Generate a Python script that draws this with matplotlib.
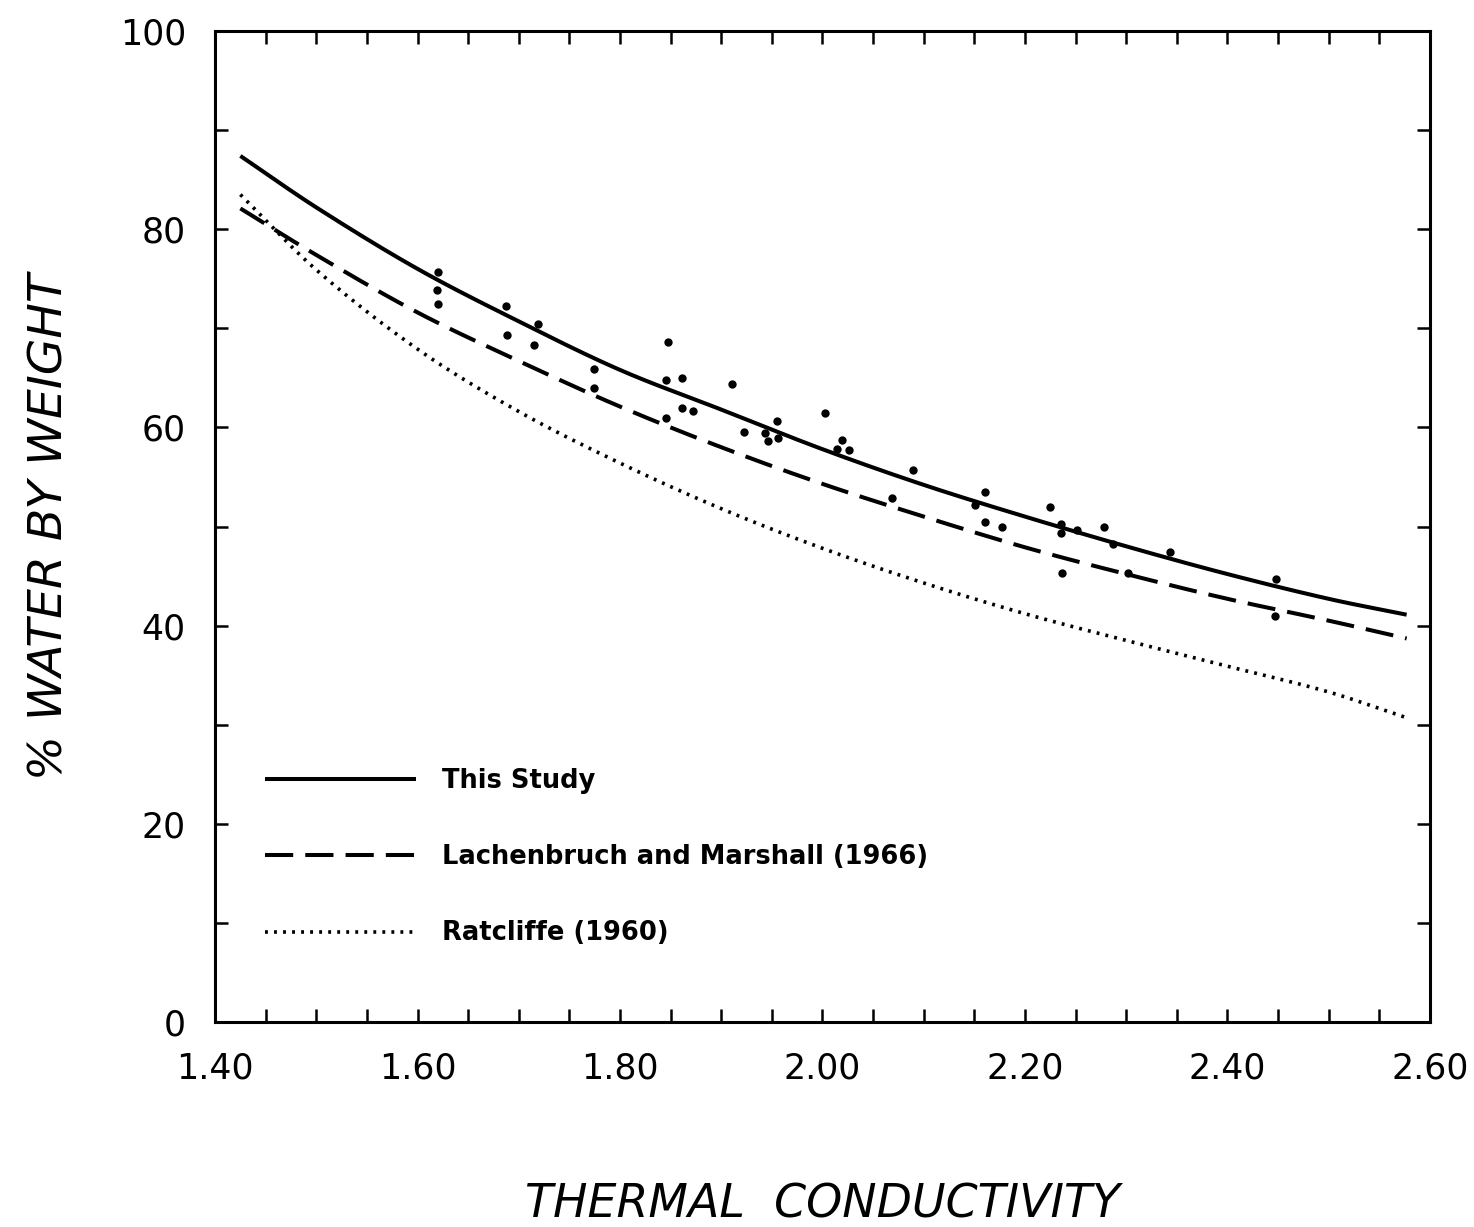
import numpy as np
import matplotlib
matplotlib.use('Agg')
import matplotlib.pyplot as plt
from matplotlib.ticker import MultipleLocator

# measured points (thermal conductivity, % water by weight)
obs_k = [1.620, 1.619, 1.620, 1.687, 1.688, 1.719, 1.715, 1.774, 1.774,
         1.847, 1.845, 1.861, 1.861, 1.872, 1.845, 1.911, 1.922, 1.955,
         1.943, 1.946, 1.956, 2.002, 2.019, 2.014, 2.026, 2.089, 2.069,
         2.151, 2.161, 2.161, 2.177, 2.225, 2.236, 2.236, 2.251, 2.278,
         2.287, 2.237, 2.302, 2.343, 2.448, 2.447]
obs_w = [75.7, 73.9, 72.5, 72.3, 69.3, 70.4, 68.3, 65.9, 64.0,
         68.6, 64.8, 65.0, 62.0, 61.7, 60.9, 64.4, 59.5, 60.6,
         59.4, 58.6, 58.9, 61.5, 58.7, 57.8, 57.7, 55.7, 52.9,
         52.2, 53.5, 50.5, 49.9, 52.0, 50.3, 49.3, 49.6, 50.0,
         48.2, 45.3, 45.3, 47.4, 44.7, 41.0]

# curves
curve_k = [1.425, 1.50, 1.60, 1.70, 1.80, 1.90, 2.00, 2.10, 2.20, 2.30, 2.40, 2.50, 2.577]
this_study = [87.4, 82.2, 76.0, 70.7, 65.8, 61.8, 57.8, 54.2, 51.0, 48.0, 45.2, 42.7, 41.1]
lachenbruch = [82.1, 77.4, 71.6, 66.7, 62.1, 58.0, 54.3, 51.0, 47.9, 45.2, 42.7, 40.5, 38.7]
ratcliffe = [83.5, 75.9, 67.9, 61.6, 56.4, 51.8, 47.8, 44.3, 41.2, 38.5, 35.9, 33.3, 30.7]

labels = ['This Study', 'Lachenbruch and Marshall (1966)', 'Ratcliffe (1960)']

def smooth(xs, ys):
    # cubic hermite through the read points
    xs = np.asarray(xs, float)
    ys = np.asarray(ys, float)
    out_x, out_y = [], []
    for i in range(len(xs) - 1):
        x0, x1 = xs[i], xs[i + 1]
        y0, y1 = ys[i], ys[i + 1]
        m0 = (ys[i + 1] - ys[i - 1]) / (xs[i + 1] - xs[i - 1]) if i > 0 else (y1 - y0) / (x1 - x0)
        m1 = (ys[i + 2] - ys[i]) / (xs[i + 2] - xs[i]) if i + 2 < len(xs) else (y1 - y0) / (x1 - x0)
        t = np.linspace(0, 1, 20, endpoint=False)
        h = x1 - x0
        h00 = 2 * t**3 - 3 * t**2 + 1
        h10 = t**3 - 2 * t**2 + t
        h01 = -2 * t**3 + 3 * t**2
        h11 = t**3 - t**2
        out_x.extend(x0 + t * h)
        out_y.extend(h00 * y0 + h10 * h * m0 + h01 * y1 + h11 * h * m1)
    out_x.append(xs[-1])
    out_y.append(ys[-1])
    return np.array(out_x), np.array(out_y)

fig = plt.figure(figsize=(14.74, 12.27), dpi=100)
ax = fig.add_axes([0.1459, 0.1671, 0.8242, 0.8076])

sx, sy = smooth(curve_k, this_study)
ax.plot(sx, sy, color='black', lw=2.9, solid_capstyle='butt', label=labels[0])
sx, sy = smooth(curve_k, lachenbruch)
ax.plot(sx, sy, color='black', lw=2.9, dashes=(7.0, 3.0), label=labels[1])
sx, sy = smooth(curve_k, ratcliffe)
ax.plot(sx, sy, color='black', lw=2.6, linestyle=(0, (0.8, 1.7)), label=labels[2])
ax.plot(obs_k, obs_w, 'o', color='black', markersize=6, markeredgewidth=0)

ax.set_xlim(1.40, 2.60)
ax.set_ylim(0, 100)
ax.xaxis.set_major_locator(MultipleLocator(0.2))
ax.xaxis.set_minor_locator(MultipleLocator(0.05))
ax.yaxis.set_major_locator(MultipleLocator(20))
ax.yaxis.set_minor_locator(MultipleLocator(10))
ax.xaxis.set_major_formatter(plt.FuncFormatter(lambda v, p: '%.2f' % v))
ax.yaxis.set_major_formatter(plt.FuncFormatter(lambda v, p: '%d' % round(v)))
ax.tick_params(which='both', direction='in', top=True, right=True,
               length=9.5, width=1.8)
ax.tick_params(which='major', labelsize=25, pad=21)
for s in ax.spines.values():
    s.set_linewidth(2.2)

ax.set_xlabel('THERMAL  CONDUCTIVITY', fontsize=33, style='italic',
              labelpad=70)
ax.set_ylabel('% WATER BY WEIGHT', fontsize=34, style='italic',
              labelpad=34)

leg = ax.legend(loc='upper left', bbox_to_anchor=(0.041, 0.256),
                frameon=False, borderaxespad=0, borderpad=0,
                handlelength=5.9, handletextpad=1.0, labelspacing=1.95,
                prop={'size': 18.5, 'weight': 'bold'})

fig.savefig('out.png', dpi=100)
